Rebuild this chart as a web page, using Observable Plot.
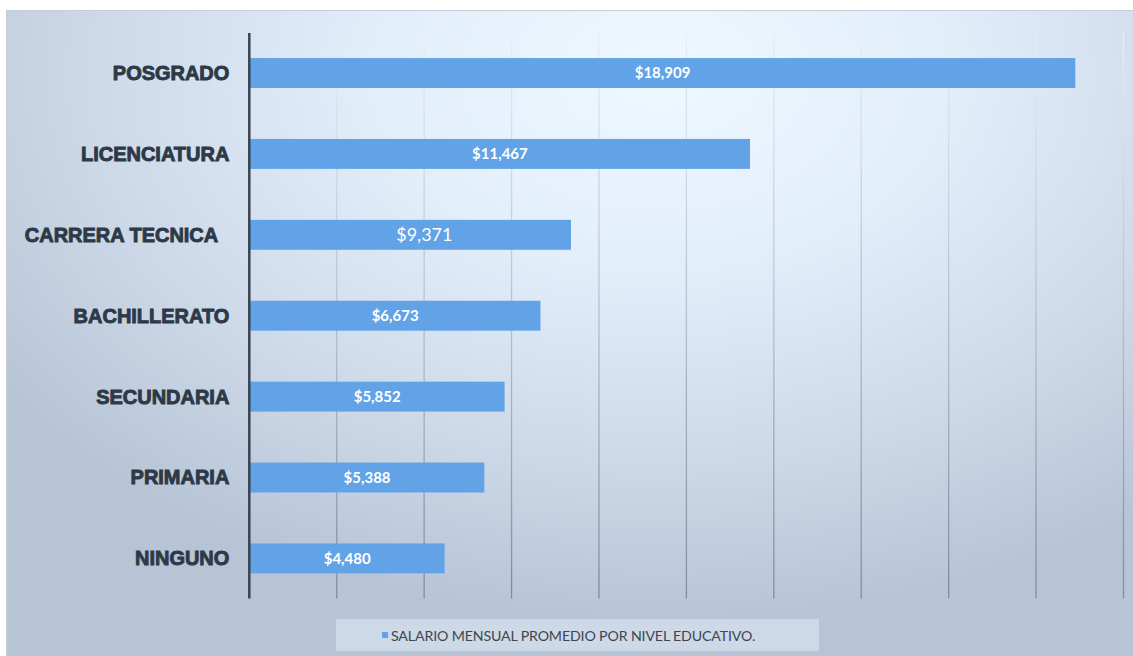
<!DOCTYPE html>
<html>
<head>
<meta charset="utf-8">
<script src="https://cdn.jsdelivr.net/npm/d3@7"></script>
<script src="https://cdn.jsdelivr.net/npm/@observablehq/plot@0.6"></script>
<style>
  html, body { margin: 0; padding: 0; background: #ffffff; width: 1133px; height: 656px; overflow: hidden; }
  #panel {
    position: absolute; left: 6px; top: 10px; width: 1127px; height: 646px;
    background: radial-gradient(ellipse 72% 85% at 58% 10%, #eef8ff 0%, #e2eefa 35%, #cdd9e8 70%, #b7c4d6 100%);
    border-top: 1px solid #c3ced8; border-left: 1px solid #c3ced8; box-sizing: border-box;
  }
  #chart { position: absolute; left: 0; top: 0; }
  #legend {
    position: absolute; left: 329px; top: 608px; width: 483px; height: 32px;
    background: rgba(228, 237, 248, 0.5);
    display: flex; align-items: center; box-sizing: border-box; padding-left: 46px;
    font-family: Lato, "Open Sans", sans-serif; font-size: 14.2px; color: #3f4550; letter-spacing: -0.15px;
  }
  #legend .sw { width: 6px; height: 6px; background: #62a3e8; margin-right: 3px; }
</style>
</head>
<body>
<div id="panel">
  <div id="chart"></div>
  <div id="legend"><span class="sw"></span><span id="legendText"></span></div>
</div>
<script>
const categories = ["POSGRADO", "LICENCIATURA", "CARRERA TECNICA ", "BACHILLERATO", "SECUNDARIA", "PRIMARIA", "NINGUNO"];
const salaries = [18909, 11467, 7371, 6673, 5852, 5388, 4480];
const valueLabels = ["$18,909", "$11,467", "$9,371", "$6,673", "$5,852", "$5,388", "$4,480"];
const gridValues = [2000, 4000, 6000, 8000, 10000, 12000, 14000, 16000, 18000, 20000];
const seriesName = "SALARIO MENSUAL PROMEDIO POR NIVEL EDUCATIVO.";

const data = categories.map((c, i) => ({nivel: c, salary: salaries[i], label: valueLabels[i]}));
const special = "CARRERA TECNICA ";

const plot = Plot.plot({
  width: 1127,
  height: 600,
  marginLeft: 242,
  marginRight: 10,
  marginTop: 22,
  marginBottom: 12,
  style: {background: "transparent", fontFamily: "'Liberation Sans', Arial, sans-serif", overflow: "visible"},
  x: {domain: [0, 20000], axis: null},
  y: {domain: categories, paddingInner: 0.63, paddingOuter: 0.31, round: false, axis: null},
  marks: [
    Plot.ruleX(gridValues, {stroke: "url(#gridGrad)", strokeWidth: 1.3}),
    Plot.barX(data, {x: "salary", y: "nivel", fill: "#62a3e8"}),
    Plot.ruleX([0], {stroke: "#3a4350", strokeWidth: 2.5}),
    Plot.axisY({
      label: null, tickSize: 0, tickPadding: 20, fontSize: 20, fontWeight: "bold", fill: "#2e3947",
      tickFormat: d => d.replace(/ $/, "\u00a0\u00a0")
    }),
    Plot.text(data.filter(d => d.nivel !== special), {
      x: d => d.salary / 2, y: "nivel", text: "label",
      fill: "white", fontSize: 15, fontWeight: "bold", fontFamily: "Lato, 'Open Sans', sans-serif"
    }),
    Plot.text(data.filter(d => d.nivel === special), {
      x: d => d.salary / 2, y: "nivel", text: "label", dx: 14,
      fill: "white", fontSize: 18, fontFamily: "Lato, 'Open Sans', sans-serif"
    })
  ]
});

d3.select(plot).insert("defs", ":first-child").html(
  '<linearGradient id="gridGrad" gradientUnits="userSpaceOnUse" x1="0" y1="22" x2="0" y2="588">' +
  '<stop offset="0" stop-color="#e6eef7"/><stop offset="0.5" stop-color="#b5c0ce"/><stop offset="1" stop-color="#7e8c9f"/></linearGradient>'
);
d3.select(plot).selectAll("g[aria-label='y-axis tick label'] text")
  .attr("stroke", "#2e3947").attr("stroke-width", 0.9);

document.getElementById("chart").appendChild(plot);
document.getElementById("legendText").textContent = seriesName;
</script>
</body>
</html>
